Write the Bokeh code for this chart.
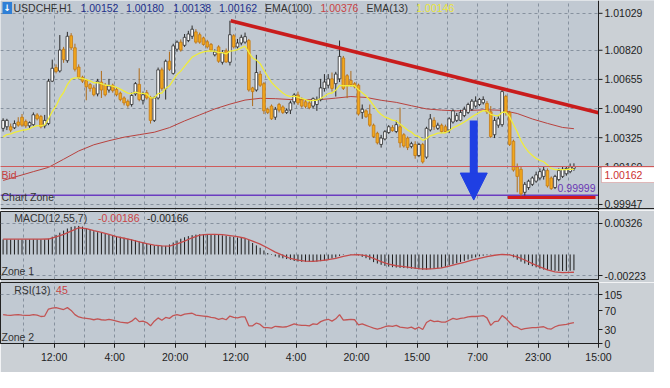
from bokeh.plotting import figure
from bokeh.layouts import column
from bokeh.models import (Range1d, FixedTicker, NumeralTickFormatter, Span, Label,
                          Arrow, NormalHead, ColumnDataSource, BoxAnnotation)
from bokeh.core.properties import value
from bokeh.embed import file_html
from bokeh.resources import INLINE

# ------------------------------------------------------------------ data
symbol = "USDCHF,H1"
opens = [
1.00378, 1.00387, 1.00387, 1.00381, 1.00414, 1.00441, 1.00417, 1.00392, 1.00399, 1.00454,
1.00445, 1.00392, 1.00405, 1.00645, 1.00722, 1.00703, 1.00826, 1.00761, 1.00902, 1.00834,
1.00725, 1.00667, 1.00649, 1.00626, 1.00607, 1.00573, 1.00640, 1.00622, 1.00595, 1.00622,
1.00598, 1.00577, 1.00550, 1.00531, 1.00513, 1.00573, 1.00627, 1.00537, 1.00580, 1.00553,
1.00423, 1.00550, 1.00709, 1.00604, 1.00758, 1.00689, 1.00826, 1.00866, 1.00848, 1.00875,
1.00899, 1.00924, 1.00908, 1.00890, 1.00868, 1.00853, 1.00794, 1.00839, 1.00752, 1.00817,
1.00752, 1.00902, 1.00839, 1.00861, 1.00866, 1.00875, 1.00607, 1.00595, 1.00685, 1.00631,
1.00486, 1.00504, 1.00441, 1.00513, 1.00499, 1.00468, 1.00481, 1.00528, 1.00567, 1.00540,
1.00528, 1.00522, 1.00504, 1.00513, 1.00540, 1.00604, 1.00622, 1.00658, 1.00631, 1.00658,
1.00776, 1.00676, 1.00649, 1.00631, 1.00622, 1.00468, 1.00477, 1.00459, 1.00396, 1.00350,
1.00287, 1.00318, 1.00354, 1.00383, 1.00360, 1.00387, 1.00342, 1.00323, 1.00276, 1.00287,
1.00224, 1.00287, 1.00215, 1.00369, 1.00423, 1.00378, 1.00396, 1.00387, 1.00369, 1.00414,
1.00423, 1.00423, 1.00450, 1.00468, 1.00486, 1.00504, 1.00513, 1.00523, 1.00519, 1.00472,
1.00342, 1.00396, 1.00399, 1.00559, 1.00468, 1.00305, 1.00160, 1.00146, 1.00016, 1.00043,
1.00061, 1.00079, 1.00097, 1.00106, 1.00139, 1.00097, 1.00043, 1.00088, 1.00106, 1.00121,
1.00133, 1.00152]
highs = [
1.00435, 1.00432, 1.00405, 1.00423, 1.00441, 1.00459, 1.00428, 1.00417, 1.00468, 1.00464,
1.00454, 1.00454, 1.00658, 1.00767, 1.00740, 1.00906, 1.00839, 1.00924, 1.00917, 1.00857,
1.00740, 1.00676, 1.00658, 1.00635, 1.00622, 1.00658, 1.00703, 1.00635, 1.00658, 1.00631,
1.00609, 1.00586, 1.00559, 1.00541, 1.00580, 1.00640, 1.00718, 1.00586, 1.00595, 1.00562,
1.00559, 1.00722, 1.00722, 1.00767, 1.00812, 1.00857, 1.00875, 1.00881, 1.00912, 1.00930,
1.00960, 1.00939, 1.00920, 1.00897, 1.00879, 1.00861, 1.00825, 1.00848, 1.00821, 1.00830,
1.00987, 1.00911, 1.00884, 1.00908, 1.00920, 1.00884, 1.00613, 1.00794, 1.00703, 1.00640,
1.00495, 1.00513, 1.00499, 1.00522, 1.00508, 1.00491, 1.00535, 1.00577, 1.00586, 1.00553,
1.00540, 1.00535, 1.00553, 1.00558, 1.00658, 1.00685, 1.00685, 1.00694, 1.00698, 1.00875,
1.00788, 1.00685, 1.00703, 1.00640, 1.00631, 1.00513, 1.00486, 1.00513, 1.00405, 1.00359,
1.00341, 1.00368, 1.00396, 1.00396, 1.00423, 1.00495, 1.00351, 1.00332, 1.00302, 1.00305,
1.00296, 1.00296, 1.00387, 1.00459, 1.00441, 1.00410, 1.00405, 1.00399, 1.00441, 1.00486,
1.00465, 1.00483, 1.00501, 1.00523, 1.00544, 1.00559, 1.00550, 1.00559, 1.00532, 1.00504,
1.00441, 1.00447, 1.00599, 1.00568, 1.00477, 1.00314, 1.00179, 1.00160, 1.00074, 1.00088,
1.00106, 1.00133, 1.00151, 1.00160, 1.00151, 1.00106, 1.00115, 1.00151, 1.00160, 1.00160,
1.00179, 1.00180]
lows = [
1.00360, 1.00368, 1.00356, 1.00374, 1.00387, 1.00387, 1.00381, 1.00378, 1.00392, 1.00423,
1.00378, 1.00378, 1.00396, 1.00640, 1.00689, 1.00694, 1.00749, 1.00749, 1.00821, 1.00700,
1.00658, 1.00635, 1.00537, 1.00586, 1.00559, 1.00559, 1.00550, 1.00559, 1.00580, 1.00580,
1.00559, 1.00531, 1.00508, 1.00495, 1.00501, 1.00562, 1.00531, 1.00513, 1.00541, 1.00405,
1.00414, 1.00541, 1.00591, 1.00541, 1.00703, 1.00682, 1.00812, 1.00812, 1.00839, 1.00866,
1.00884, 1.00857, 1.00857, 1.00846, 1.00830, 1.00812, 1.00785, 1.00749, 1.00739, 1.00749,
1.00734, 1.00830, 1.00830, 1.00848, 1.00857, 1.00586, 1.00504, 1.00586, 1.00613, 1.00459,
1.00459, 1.00426, 1.00426, 1.00468, 1.00459, 1.00459, 1.00459, 1.00513, 1.00510, 1.00495,
1.00491, 1.00486, 1.00491, 1.00477, 1.00531, 1.00586, 1.00604, 1.00586, 1.00558, 1.00640,
1.00595, 1.00549, 1.00613, 1.00604, 1.00450, 1.00432, 1.00437, 1.00387, 1.00323, 1.00287,
1.00269, 1.00310, 1.00347, 1.00359, 1.00351, 1.00269, 1.00269, 1.00255, 1.00265, 1.00206,
1.00215, 1.00179, 1.00206, 1.00360, 1.00369, 1.00369, 1.00351, 1.00351, 1.00351, 1.00405,
1.00414, 1.00418, 1.00441, 1.00459, 1.00477, 1.00495, 1.00504, 1.00513, 1.00459, 1.00323,
1.00323, 1.00381, 1.00387, 1.00450, 1.00278, 1.00133, 1.00016, 0.99994, 0.99998, 1.00030,
1.00052, 1.00070, 1.00084, 1.00088, 1.00043, 1.00030, 1.00034, 1.00079, 1.00097, 1.00110,
1.00124, 1.00138]
closes = [
1.00423, 1.00423, 1.00368, 1.00405, 1.00396, 1.00396, 1.00392, 1.00410, 1.00455, 1.00432,
1.00387, 1.00423, 1.00645, 1.00718, 1.00700, 1.00821, 1.00767, 1.00899, 1.00834, 1.00712,
1.00667, 1.00645, 1.00613, 1.00604, 1.00568, 1.00645, 1.00595, 1.00568, 1.00618, 1.00591,
1.00568, 1.00541, 1.00522, 1.00508, 1.00564, 1.00631, 1.00541, 1.00568, 1.00550, 1.00423,
1.00550, 1.00709, 1.00604, 1.00758, 1.00712, 1.00845, 1.00866, 1.00821, 1.00893, 1.00912,
1.00939, 1.00866, 1.00866, 1.00853, 1.00839, 1.00821, 1.00810, 1.00758, 1.00806, 1.00754,
1.00908, 1.00839, 1.00861, 1.00893, 1.00897, 1.00595, 1.00586, 1.00694, 1.00622, 1.00477,
1.00468, 1.00432, 1.00486, 1.00481, 1.00468, 1.00481, 1.00522, 1.00567, 1.00522, 1.00504,
1.00502, 1.00495, 1.00546, 1.00540, 1.00607, 1.00640, 1.00658, 1.00604, 1.00685, 1.00785,
1.00604, 1.00618, 1.00625, 1.00613, 1.00459, 1.00486, 1.00444, 1.00396, 1.00332, 1.00296,
1.00323, 1.00359, 1.00387, 1.00365, 1.00399, 1.00296, 1.00278, 1.00269, 1.00291, 1.00224,
1.00287, 1.00188, 1.00378, 1.00432, 1.00387, 1.00396, 1.00360, 1.00360, 1.00432, 1.00477,
1.00450, 1.00468, 1.00486, 1.00513, 1.00532, 1.00532, 1.00541, 1.00541, 1.00472, 1.00332,
1.00423, 1.00432, 1.00586, 1.00468, 1.00287, 1.00142, 1.00106, 1.00007, 1.00061, 1.00079,
1.00097, 1.00115, 1.00133, 1.00142, 1.00052, 1.00037, 1.00106, 1.00139, 1.00146, 1.00151,
1.00160, 1.00162]
ema13 = [
1.00330, 1.00343, 1.00347, 1.00355, 1.00361, 1.00366, 1.00370, 1.00376, 1.00387, 1.00393,
1.00392, 1.00397, 1.00432, 1.00473, 1.00505, 1.00550, 1.00581, 1.00626, 1.00656, 1.00664,
1.00664, 1.00661, 1.00654, 1.00647, 1.00636, 1.00637, 1.00631, 1.00622, 1.00621, 1.00617,
1.00610, 1.00600, 1.00589, 1.00577, 1.00575, 1.00583, 1.00577, 1.00576, 1.00572, 1.00551,
1.00551, 1.00574, 1.00578, 1.00604, 1.00619, 1.00651, 1.00682, 1.00702, 1.00729, 1.00755,
1.00781, 1.00793, 1.00804, 1.00811, 1.00815, 1.00816, 1.00815, 1.00807, 1.00807, 1.00799,
1.00815, 1.00818, 1.00824, 1.00834, 1.00843, 1.00808, 1.00776, 1.00764, 1.00744, 1.00706,
1.00672, 1.00638, 1.00616, 1.00597, 1.00578, 1.00564, 1.00558, 1.00560, 1.00554, 1.00547,
1.00541, 1.00534, 1.00536, 1.00537, 1.00547, 1.00560, 1.00574, 1.00578, 1.00594, 1.00621,
1.00619, 1.00619, 1.00620, 1.00619, 1.00596, 1.00580, 1.00561, 1.00537, 1.00508, 1.00478,
1.00456, 1.00442, 1.00434, 1.00424, 1.00420, 1.00402, 1.00385, 1.00368, 1.00357, 1.00338,
1.00331, 1.00310, 1.00320, 1.00336, 1.00343, 1.00351, 1.00352, 1.00353, 1.00364, 1.00381,
1.00391, 1.00402, 1.00414, 1.00428, 1.00443, 1.00456, 1.00468, 1.00478, 1.00477, 1.00457,
1.00452, 1.00449, 1.00469, 1.00469, 1.00443, 1.00400, 1.00358, 1.00308, 1.00272, 1.00245,
1.00224, 1.00208, 1.00197, 1.00189, 1.00170, 1.00151, 1.00144, 1.00144, 1.00144, 1.00145,
1.00147, 1.00146]
ema100_x = [0, 4, 8, 12, 16, 20, 24, 28, 32, 36, 40, 44, 48, 52, 56, 60, 64, 68, 72, 76,
            80, 84, 88, 92, 96, 100, 104, 108, 112, 116, 120, 124, 128, 132, 136, 140, 144, 148, 151]
ema100 = [1.00083, 1.00108, 1.00133, 1.00157, 1.00203, 1.00250, 1.00285, 1.00308, 1.00328, 1.00342,
          1.00356, 1.00382, 1.00420, 1.00454, 1.00488, 1.00515, 1.00538, 1.00548, 1.00546, 1.00541,
          1.00540, 1.00541, 1.00549, 1.00558, 1.00553, 1.00537, 1.00525, 1.00506, 1.00488, 1.00481,
          1.00477, 1.00480, 1.00483, 1.00480, 1.00462, 1.00431, 1.00406, 1.00383, 1.00376]
macd_main = [
0.00158, 0.00158, 0.00157, 0.00157, 0.00156, 0.00156, 0.00156, 0.00157, 0.00158, 0.00158,
0.00157, 0.00158, 0.00165, 0.00186, 0.00205, 0.00228, 0.00250, 0.00272, 0.00289, 0.00296,
0.00299, 0.00292, 0.00275, 0.00258, 0.00244, 0.00233, 0.00225, 0.00214, 0.00205, 0.00198,
0.00190, 0.00185, 0.00175, 0.00165, 0.00158, 0.00148, 0.00136, 0.00126, 0.00115, 0.00104,
0.00096, 0.00090, 0.00090, 0.00090, 0.00105, 0.00125, 0.00145, 0.00165, 0.00180, 0.00192,
0.00202, 0.00208, 0.00212, 0.00213, 0.00213, 0.00212, 0.00210, 0.00205, 0.00200, 0.00195,
0.00188, 0.00183, 0.00178, 0.00172, 0.00165, 0.00150, 0.00120, 0.00095, 0.00070, 0.00042,
0.00015, -0.00005, -0.00020, -0.00032, -0.00040, -0.00048, -0.00055, -0.00068, -0.00074, -0.00077,
-0.00078, -0.00078, -0.00077, -0.00075, -0.00070, -0.00064, -0.00055, -0.00042, -0.00032, -0.00015,
-0.00005, 0.00000, 0.00005, 0.00006, -0.00010, -0.00025, -0.00039, -0.00055, -0.00080, -0.00095,
-0.00108, -0.00119, -0.00127, -0.00133, -0.00137, -0.00140, -0.00142, -0.00145, -0.00148, -0.00151,
-0.00155, -0.00160, -0.00158, -0.00153, -0.00150, -0.00145, -0.00138, -0.00128, -0.00115, -0.00103,
-0.00092, -0.00078, -0.00066, -0.00052, -0.00040, -0.00030, -0.00020, -0.00013, -0.00008, -0.00004,
0.00000, 0.00002, 0.00004, 0.00000, -0.00005, -0.00030, -0.00055, -0.00075, -0.00095, -0.00110,
-0.00122, -0.00135, -0.00148, -0.00158, -0.00164, -0.00168, -0.00171, -0.00173, -0.00173, -0.00172,
-0.00170, -0.00166]
signal_x = [0, 2, 4, 6, 8, 10, 12, 14, 16, 18, 20, 22, 24, 26, 28, 30, 32, 34, 36, 38,
            40, 42, 44, 46, 48, 50, 52, 54, 56, 58, 60, 62, 64, 66, 68, 70, 72, 74, 76, 78,
            80, 82, 84, 86, 88, 90, 92, 94, 96, 98, 100, 102, 104, 106, 108, 110, 112, 114, 116, 118,
            120, 122, 124, 126, 128, 130, 132, 134, 136, 138, 140, 142, 144, 146, 148, 150, 151]
macd_signal = [
0.00160, 0.00160, 0.00160, 0.00160, 0.00160, 0.00160, 0.00162, 0.00185, 0.00210, 0.00245,
0.00280, 0.00270, 0.00250, 0.00232, 0.00210, 0.00188, 0.00170, 0.00152, 0.00133, 0.00113,
0.00098, 0.00090, 0.00088, 0.00110, 0.00140, 0.00175, 0.00203, 0.00210, 0.00210, 0.00207,
0.00198, 0.00186, 0.00170, 0.00140, 0.00108, 0.00068, 0.00025, -0.00010, -0.00042, -0.00060,
-0.00070, -0.00072, -0.00065, -0.00055, -0.00040, -0.00020, -0.00005, -0.00002, -0.00013, -0.00040,
-0.00075, -0.00100, -0.00118, -0.00128, -0.00138, -0.00148, -0.00152, -0.00148, -0.00140, -0.00122,
-0.00102, -0.00082, -0.00060, -0.00040, -0.00022, -0.00008, 0.00000, -0.00005, -0.00025, -0.00058,
-0.00095, -0.00130, -0.00162, -0.00182, -0.00189, -0.00187, -0.00186]
rsi = [
62, 61, 60.5, 61.5, 62, 61, 60.5, 60.5, 62, 61,
58, 59, 74, 76, 77, 75, 73, 77, 71, 62,
57, 55, 54, 53, 51, 53, 51, 50, 52, 50,
48, 46, 45, 44, 48, 55, 47, 48, 45, 38,
48, 55, 50, 56, 54, 60, 62, 60, 63, 64,
65, 61, 60, 59, 58, 56, 55, 52, 54, 51,
59, 56, 55, 57, 57, 38, 38, 44, 41, 34,
34, 33, 37, 36, 35, 36, 39, 42, 40, 39,
39, 38, 42, 41, 47, 50, 52, 48, 53, 62,
50, 51, 52, 51, 40, 42, 39, 36, 33, 31,
33, 36, 38, 37, 39, 35, 34, 33, 35, 31,
35, 30, 45, 50, 47, 48, 46, 46, 50, 54,
52, 54, 55, 57, 58, 58, 59, 60, 55, 39,
47, 48, 60, 54, 45, 37, 35, 30, 32, 33,
34, 34, 35, 36, 32, 31, 36, 39, 40, 41,
43, 45]

time_tick_pos = [13.5, 29.5, 45.5, 61.5, 77.5, 93.5, 109.5, 125.5, 141.5, 157.5]
time_labels = ["12:00", "4:00", "20:00", "12:00", "4:00", "20:00", "15:00", "7:00", "23:00", "15:00"]
grid_x = [5.5, 13.5, 21.5, 29.5, 37.5, 45.5, 53.5, 61.5, 69.5, 77.5, 85.5, 93.5, 101.5,
          109.5, 117.5, 125.5, 133.5, 141.5, 149.5, 157.5]
price_ticks = [0.99947, 1.00160, 1.00325, 1.00490, 1.00655, 1.00820, 1.01029]
macd_ticks = [-0.00223, 0.00326]
rsi_ticks = [0, 30, 70, 105]
rsi_grid = [105]

bid = 1.00162
zone_level = 0.99999
trend_x = [60.2, 157.5]
trend_y = [1.00987, 1.00466]
support_x = [133.5, 156.7]
support_y = [0.99986, 0.99986]
arrow_x = 124.5
arrow_top = 1.00422
arrow_tip = 0.99972

# ------------------------------------------------------------------ style / geometry
W = 654
BR = 56
FONT = "Liberation Sans"
FS = "10.5px"
BG = "#c1c9d2"
BORDER = "#cbd0d5"
GRID = "#7f8b98"
DARK = "#1e1e1e"
TXT = "#333333"

X0, X1 = -0.69, 157.5                 # visible bar span of the chart frames
PX = (W - BR) / (X1 - X0)             # pixels per bar
x_range = Range1d(X0, X1)
x_range_main = Range1d(X0, X0 + W / PX)   # main panel draws its own price scale


def style_grid(p, gx, gy):
    p.xgrid.ticker = FixedTicker(ticks=gx)
    p.ygrid.ticker = FixedTicker(ticks=gy)
    for g in (p.xgrid, p.ygrid):
        g.grid_line_color = GRID
        g.grid_line_dash = "3 3"
        g.grid_line_width = 1
        g.grid_line_alpha = 0.9


def make_fig(h, yr, top, bottom, ticks, grid_ticks, fmt=None, xaxis=False):
    p = figure(width=W, height=h, x_range=x_range, y_range=yr, output_backend="svg",
               toolbar_location=None, y_axis_location="right",
               x_axis_location="below" if xaxis else None,
               min_border_left=0, min_border_right=BR, min_border_top=top,
               min_border_bottom=bottom)
    p.frame_align = False
    p.background_fill_color = BG
    p.border_fill_color = BORDER
    p.outline_line_color = "#222222"
    p.outline_line_width = 1
    ax = p.yaxis[0]
    ax.ticker = FixedTicker(ticks=ticks)
    if fmt:
        ax.formatter = NumeralTickFormatter(format=fmt)
    ax.major_label_text_font = FONT
    ax.major_label_text_font_size = FS
    ax.major_label_text_color = DARK
    ax.major_tick_out = 4
    ax.major_tick_in = 0
    ax.minor_tick_line_color = None
    ax.major_tick_line_color = DARK
    ax.axis_line_color = DARK
    ax.major_label_standoff = 2
    style_grid(p, grid_x, grid_ticks)
    return p


def txt(p, x, y, text, color, dx=0, dy=0, size=FS, align="left", **kw):
    lab = Label(x=x, y=y, x_offset=dx, y_offset=dy, text=text, text_color=color,
                text_font=FONT, text_font_size=size, text_align=align,
                text_baseline="middle", **kw)
    p.add_layout(lab)
    return lab


# ------------------------------------------------------------------ main price panel
H1 = 210
PY = 0.0000566                        # price per pixel in the main panel
yr1 = Range1d(0.99913, 0.99913 + H1 * PY)
p1 = figure(width=W, height=H1, x_range=x_range_main, y_range=yr1, output_backend="svg",
            toolbar_location=None, x_axis_location=None, y_axis_location=None,
            min_border_left=0, min_border_right=0, min_border_top=0, min_border_bottom=0)
p1.frame_align = False
p1.background_fill_color = BG
p1.border_fill_color = BORDER
p1.outline_line_color = None
style_grid(p1, grid_x, price_ticks)

# price-scale strip on the right
p1.add_layout(BoxAnnotation(left=X1, fill_color=BORDER, fill_alpha=1, line_color=None,
                            level="underlay"))
p1.add_layout(Span(location=X1, dimension="height", line_color=DARK, line_width=1))
p1.add_layout(Span(location=0.99913 + 2 * PY, dimension="width", line_color="#222222",
                   line_width=1))
n_t = len(price_ticks)
p1.segment(x0=[X1] * n_t, y0=price_ticks, x1=[X1 + 4 / PX] * n_t, y1=price_ticks,
           line_color=DARK, line_width=1)
p1.text(x=[X1 + 6 / PX] * n_t, y=price_ticks, text=[f"{t:.5f}" for t in price_ticks],
        text_font=value(FONT), text_font_size=value(FS), text_color=DARK,
        text_baseline="middle", text_align="left")

idx = list(range(len(closes)))
up = [i for i in idx if closes[i] >= opens[i]]
dn = [i for i in idx if closes[i] < opens[i]]
src_up = ColumnDataSource(dict(x=up, top=[closes[i] for i in up], bottom=[opens[i] for i in up],
                               hi=[highs[i] for i in up], lo=[lows[i] for i in up]))
src_dn = ColumnDataSource(dict(x=dn, top=[opens[i] for i in dn], bottom=[closes[i] for i in dn],
                               hi=[highs[i] for i in dn], lo=[lows[i] for i in dn]))

p1.line([X0, X1], [zone_level, zone_level], line_color="#6b3cc0", line_width=1.5)
p1.add_layout(Span(location=bid, dimension="width", line_color="#cf5b5b", line_width=1.2))

p1.line(ema100_x, ema100, line_color="#b8423e", line_width=1)
p1.segment(x0="x", y0="lo", x1="x", y1="hi", source=src_dn, line_color="#b06c18", line_width=1)
p1.vbar(x="x", width=0.7, top="top", bottom="bottom", source=src_dn,
        fill_color="#f2a81e", line_color="#c47a14", line_width=0.8)
p1.segment(x0="x", y0="lo", x1="x", y1="hi", source=src_up, line_color="#2a2a2a", line_width=1)
p1.vbar(x="x", width=0.7, top="top", bottom="bottom", source=src_up,
        fill_color="#ffffff", line_color="#2a2a2a", line_width=0.8)
p1.line(idx, ema13, line_color="#f0ec3a", line_width=1.3)

p1.line(trend_x, trend_y, line_color="#c91c1c", line_width=3.5)
p1.line(support_x, support_y, line_color="#d21a1a", line_width=3)

blue = "#1f3fe3"
p1.add_layout(Arrow(end=NormalHead(size=27, fill_color=blue, line_color=blue, line_width=1),
                    x_start=arrow_x, y_start=arrow_top, x_end=arrow_x, y_end=arrow_tip,
                    line_color=blue, line_width=8))

# title row
xs, ye = X0, yr1.end
p1.add_layout(Label(x=xs, y=ye, x_offset=2, y_offset=-7.5, text="\u2193", text_color="white",
                    text_font="DejaVu Sans", text_font_size="9px", text_font_style="bold",
                    text_baseline="middle", background_fill_color="#2f7fd6", padding=1))
txt(p1, xs, ye, symbol, TXT, dx=13, dy=-7.7)
txt(p1, xs, ye, f"{opens[-1]:.5f}", "#22308c", dx=80, dy=-7.7)
txt(p1, xs, ye, f"{highs[-1]:.5f}", "#22308c", dx=125.5, dy=-7.7)
txt(p1, xs, ye, f"{lows[-1]:.5f}", "#22308c", dx=172.7, dy=-7.7)
txt(p1, xs, ye, f"{closes[-1]:.5f}", "#22308c", dx=218.6, dy=-7.7)
txt(p1, xs, ye, "EMA(100)", TXT, dx=264.5, dy=-7.7)
txt(p1, xs, ye, f"{ema100[-1]:.5f}", "#c94444", dx=320, dy=-7.7)
txt(p1, xs, ye, "EMA(13)", TXT, dx=366, dy=-7.7)
txt(p1, xs, ye, f"{ema13[-1]:.5f}", "#ebe63a", dx=415.8, dy=-7.7)

txt(p1, xs, bid, "Bid", "#c84040", dx=1, dy=-8.2)
txt(p1, xs, zone_level, "Chart Zone", TXT, dx=1, dy=-1.5)
txt(p1, X1, zone_level, f"{zone_level:.5f}", "#6a38b4", dx=-3, dy=7.7, align="right")

# current-price box on the price scale
p1.add_layout(BoxAnnotation(left=X1 + 3 / PX, right=x_range_main.end + 1,
                            top=bid - 0.5 * PY, bottom=bid - 16 * PY,
                            fill_color="#ffffff", fill_alpha=1,
                            line_color="#d04848", line_width=1))
txt(p1, X1, bid, f"{bid:.5f}", "#cc3030", dx=6, dy=-8.2)

# ------------------------------------------------------------------ MACD panel
yr2 = Range1d(-0.00262, 0.00450)
p2 = make_fig(72, yr2, 1, 3, macd_ticks, macd_ticks, fmt="0.00000")
p2.segment(x0=idx, y0=[0] * len(idx), x1=idx, y1=macd_main, line_color="#1c1c1c", line_width=1)
p2.line(signal_x, macd_signal, line_color="#c44a4a", line_width=1.3)
xs2, ye2 = X0, yr2.end
txt(p2, xs2, ye2, "MACD(12,55,7)", TXT, dx=13.7, dy=-6.2)
txt(p2, xs2, ye2, f"{macd_signal[-1]:.5f}", "#c94444", dx=97.6, dy=-6.2)
txt(p2, xs2, ye2, f"{macd_main[-1]:.5f}", "#222222", dx=146.4, dy=-6.2)
txt(p2, xs2, yr2.start, "Zone 1", TXT, dx=1, dy=8.6)

# ------------------------------------------------------------------ RSI panel
yr3 = Range1d(0, 131)
p3 = make_fig(90, yr3, 0, 29, rsi_ticks, rsi_grid, xaxis=True)
p3.line(idx, rsi, line_color="#c25454", line_width=1.3)
txt(p3, X0, yr3.end, "RSI(13)", TXT, dx=13.7, dy=-7.7)
txt(p3, X0, yr3.end, f"{rsi[-1]:g}", "#c94444", dx=55.6, dy=-7.7)
txt(p3, X0, yr3.start, "Zone 2", TXT, dx=1, dy=6.4)

xa = p3.xaxis[0]
xa.ticker = FixedTicker(ticks=time_tick_pos, minor_ticks=grid_x)
xa.major_label_overrides = {pos: lab for pos, lab in zip(time_tick_pos, time_labels)}
xa.major_label_text_font = FONT
xa.major_label_text_font_size = FS
xa.major_label_text_color = DARK
xa.major_tick_out = 4
xa.major_tick_in = 0
xa.minor_tick_out = 4
xa.minor_tick_in = 0
xa.major_tick_line_color = DARK
xa.minor_tick_line_color = DARK
xa.axis_line_color = DARK
xa.major_label_standoff = 3

layout = column(p1, p2, p3, spacing=0)
open("out.html", "w").write(file_html(layout, INLINE))
